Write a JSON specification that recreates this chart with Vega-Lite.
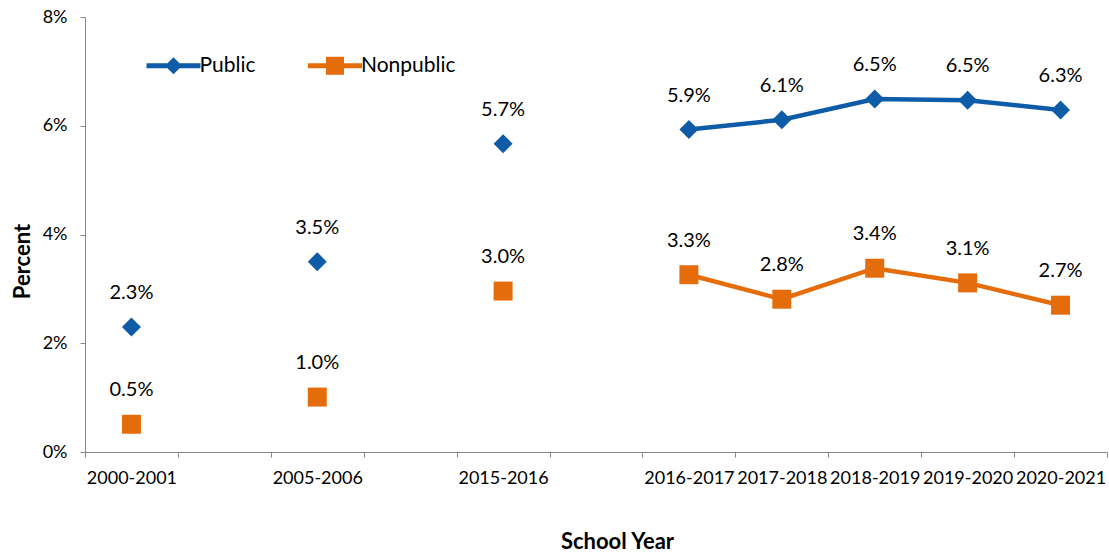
{
  "$schema": "https://vega.github.io/schema/vega-lite/v6.json",
  "width": 1022,
  "height": 435,
  "autosize": "none",
  "padding": {"left": 85, "top": 17, "right": 2, "bottom": 103},
  "background": "white",
  "config": {"view": {"stroke": null}, "font": "Lato", "axis": {"grid": false}},
  "data": {
    "values": [
      {"year": "2000-2001", "sector": "Public", "rate": 0.023},
      {"year": "2005-2006", "sector": "Public", "rate": 0.035},
      {"year": "2015-2016", "sector": "Public", "rate": 0.0567},
      {"year": "2016-2017", "sector": "Public", "rate": 0.0593},
      {"year": "2017-2018", "sector": "Public", "rate": 0.0611},
      {"year": "2018-2019", "sector": "Public", "rate": 0.0649},
      {"year": "2019-2020", "sector": "Public", "rate": 0.0647},
      {"year": "2020-2021", "sector": "Public", "rate": 0.0629},
      {"year": "2000-2001", "sector": "Nonpublic", "rate": 0.0051},
      {"year": "2005-2006", "sector": "Nonpublic", "rate": 0.0101},
      {"year": "2015-2016", "sector": "Nonpublic", "rate": 0.0296},
      {"year": "2016-2017", "sector": "Nonpublic", "rate": 0.0326},
      {"year": "2017-2018", "sector": "Nonpublic", "rate": 0.0281},
      {"year": "2018-2019", "sector": "Nonpublic", "rate": 0.0338},
      {"year": "2019-2020", "sector": "Nonpublic", "rate": 0.0311},
      {"year": "2020-2021", "sector": "Nonpublic", "rate": 0.027}
    ]
  },
  "encoding": {
    "x": {
      "field": "year",
      "type": "nominal",
      "sort": null,
      "scale": {
        "domain": ["2000-2001", "gap1", "2005-2006", "gap2", "2015-2016", "gap3", "2016-2017", "2017-2018", "2018-2019", "2019-2020", "2020-2021"],
        "paddingInner": 0,
        "paddingOuter": 0
      },
      "axis": {
        "title": "School Year",
        "titleFontSize": 22,
        "titleFontWeight": "bold",
        "titleColor": "black",
        "titleX": 532,
        "titleY": 96,
        "titleBaseline": "alphabetic",
        "labelFontSize": 18,
        "labelColor": "black",
        "labelPadding": 12,
        "labelAngle": 0,
        "labelOverlap": false,
        "tickBand": "extent",
        "tickSize": 5,
        "tickColor": "#868686",
        "domainColor": "#868686",
        "labelExpr": "isString(datum.value) && test(/-/, datum.value) ? datum.value : ''"
      }
    },
    "y": {
      "field": "rate",
      "type": "quantitative",
      "scale": {"domain": [0, 0.08]},
      "axis": {
        "title": "Percent",
        "titleFontSize": 22,
        "titleFontWeight": "bold",
        "titleColor": "black",
        "titleX": -56,
        "titleY": 244,
        "titleBaseline": "alphabetic",
        "values": [0, 0.02, 0.04, 0.06, 0.08],
        "format": ".0%",
        "labelFontSize": 18,
        "labelColor": "black",
        "labelPadding": 13,
        "tickSize": 5,
        "tickColor": "#868686",
        "domainColor": "#868686"
      }
    },
    "color": {
      "field": "sector",
      "type": "nominal",
      "scale": {"domain": ["Public", "Nonpublic"], "range": ["#0E5CA8", "#E46C0A"]},
      "legend": {
        "orient": "none",
        "legendX": 78,
        "legendY": 38,
        "direction": "horizontal",
        "title": null,
        "symbolSize": 100,
        "labelFontSize": 21,
        "labelColor": "black",
        "labelOffset": 15.5,
        "columnPadding": 51.5,
        "symbolStrokeWidth": 0,
        "encode": {
          "symbols": {
            "update": {
              "shape": {"signal": "datum.value === 'Public' ? 'M-5.4,-0.48L5.4,-0.48L5.4,0.48L-5.4,0.48ZM0,-1.7L1.7,0L0,1.7L-1.7,0Z' : 'M-5.4,-0.48L5.4,-0.48L5.4,0.48L-5.4,0.48ZM-1.8,-1.8L1.8,-1.8L1.8,1.8L-1.8,1.8Z'"},
              "fill": {"scale": "color", "field": "value"},
              "opacity": {"value": 1},
              "strokeWidth": {"value": 0}
            }
          }
        }
      }
    }
  },
  "layer": [
    {
      "transform": [{"filter": {"field": "year", "oneOf": ["2016-2017", "2017-2018", "2018-2019", "2019-2020", "2020-2021"]}}],
      "mark": {"type": "line", "strokeWidth": 4.5}
    },
    {
      "transform": [{"filter": {"field": "sector", "equal": "Public"}}],
      "mark": {"type": "point", "filled": true, "opacity": 1, "shape": "diamond", "size": 360}
    },
    {
      "transform": [{"filter": {"field": "sector", "equal": "Nonpublic"}}],
      "mark": {"type": "point", "filled": true, "opacity": 1, "shape": "square", "size": 360}
    },
    {
      "mark": {"type": "text", "dy": -34, "fontSize": 20, "baseline": "middle"},
      "encoding": {
        "text": {"field": "rate", "type": "quantitative", "format": ".1%"},
        "color": {"value": "black"}
      }
    }
  ]
}
